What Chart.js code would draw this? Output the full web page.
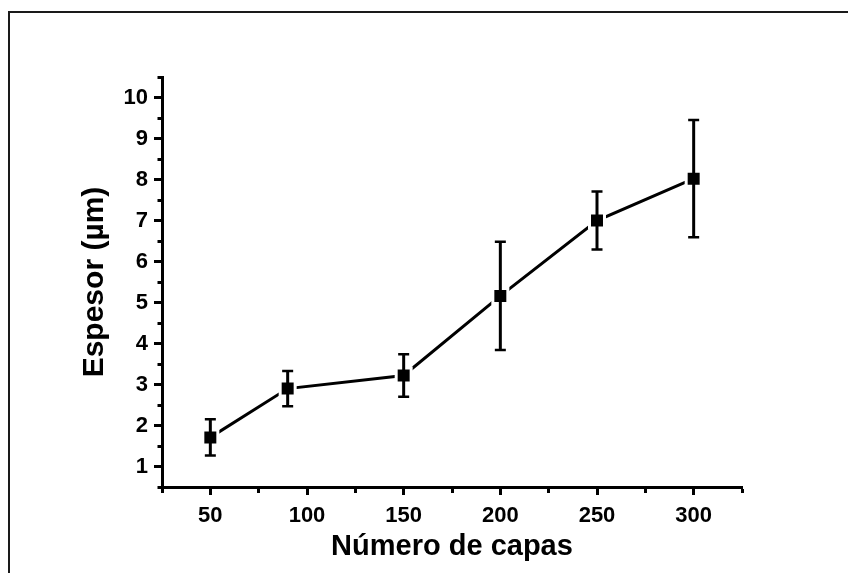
<!DOCTYPE html>
<html>
<head>
<meta charset="utf-8">
<title>Espesor vs número de capas</title>
<script src="https://cdn.jsdelivr.net/npm/chart.js@4.4.1/dist/chart.umd.min.js"></script>
<style>
  html, body { margin: 0; padding: 0; background: #fff; }
  #wrap { position: relative; width: 848px; height: 573px; overflow: hidden; }
  #frame {
    position: absolute; left: 8px; top: 11px; right: -10px; bottom: -10px;
    border-top: 2px solid #1a1a1a; border-left: 2px solid #1a1a1a;
    pointer-events: none;
  }
  canvas { position: absolute; left: 0; top: 0; }
</style>
</head>
<body>
<div id="wrap">
  <canvas id="grafico" width="848" height="573"></canvas>
  <div id="frame"></div>
</div>
<script>
// número de capas depositadas y espesor medido (µm), con su desviación
const capas = [50, 90, 150, 200, 250, 300];
const espesor = [1.71, 2.90, 3.22, 5.16, 7.00, 8.02];
const desviacion = [0.44, 0.43, 0.52, 1.32, 0.71, 1.43];

// marcas con etiqueta en cada eje
const xEtiquetas = [50, 100, 150, 200, 250, 300];
const yEtiquetas = [1, 2, 3, 4, 5, 6, 7, 8, 9, 10];

const fuente = "'Liberation Sans', Arial, sans-serif";

// barras de error verticales con tapa
const barrasError = {
  id: 'barrasError',
  afterDatasetsDraw(chart) {
    const { ctx, scales: { x, y } } = chart;
    ctx.save();
    ctx.strokeStyle = '#000';
    ctx.lineCap = 'butt';
    capas.forEach((c, i) => {
      const px = x.getPixelForValue(c);
      const arriba = y.getPixelForValue(espesor[i] + desviacion[i]);
      const abajo = y.getPixelForValue(espesor[i] - desviacion[i]);
      ctx.lineWidth = 3;
      ctx.beginPath();
      ctx.moveTo(px, arriba);
      ctx.lineTo(px, abajo);
      ctx.stroke();
      ctx.lineWidth = 2.5;
      ctx.beginPath();
      ctx.moveTo(px - 5.5, arriba); ctx.lineTo(px + 5.5, arriba);
      ctx.moveTo(px - 5.5, abajo); ctx.lineTo(px + 5.5, abajo);
      ctx.stroke();
    });
    ctx.restore();
  }
};

// marcas menores más cortas: el trazo discontinuo recorta la línea
function guionX(c) {
  return xEtiquetas.includes(c.tick.value) ? [] : [4, 20];
}
function guionY(c) {
  return yEtiquetas.includes(c.tick.value) ? [] : [0, 3.5, 20, 0];
}

new Chart(document.getElementById('grafico'), {
  type: 'scatter',
  data: {
    datasets: [{
      data: capas.map((c, i) => ({ x: c, y: espesor[i] })),
      showLine: true,
      borderColor: '#000',
      borderWidth: 3,
      pointStyle: 'rect',
      pointRadius: 10.6,
      pointBackgroundColor: '#000',
      pointBorderColor: '#fff',
      pointBorderWidth: 3,
      pointHoverRadius: 10.6
    }]
  },
  options: {
    responsive: false,
    animation: false,
    events: [],
    layout: { padding: { left: 62, top: 77, right: 106, bottom: 6 } },
    plugins: { legend: { display: false }, tooltip: { enabled: false } },
    scales: {
      x: {
        type: 'linear',
        position: 'bottom',
        min: 25, max: 325,
        afterFit(s) { s.height = 80; },
        border: { color: '#000', width: 3 },
        grid: {
          drawOnChartArea: false,
          drawTicks: true,
          tickLength: 8,
          tickWidth: 3,
          tickColor: '#000',
          tickBorderDash: guionX
        },
        ticks: {
          stepSize: 25,
          autoSkip: false,
          maxRotation: 0,
          padding: 8,
          color: '#000',
          font: { family: fuente, size: 22, weight: 'bold' },
          callback: v => xEtiquetas.includes(v) ? String(v) : ''
        },
        title: {
          display: true,
          text: 'Número de capas',
          color: '#000',
          font: { family: fuente, size: 29, weight: 'bold' },
          padding: { top: 0, bottom: 3 }
        }
      },
      y: {
        type: 'linear',
        min: 0.5, max: 10.5,
        afterFit(s) { s.width = 100; },
        border: { color: '#000', width: 3 },
        grid: {
          drawOnChartArea: false,
          drawTicks: true,
          tickLength: 8,
          tickWidth: 3,
          tickColor: '#000',
          tickBorderDash: guionY
        },
        ticks: {
          stepSize: 0.5,
          autoSkip: false,
          padding: 6,
          color: '#000',
          font: { family: fuente, size: 22, weight: 'bold' },
          callback: v => yEtiquetas.includes(v) ? String(v) : ''
        },
        title: {
          display: true,
          text: 'Espesor (µm)',
          color: '#000',
          font: { family: fuente, size: 30, weight: 'bold' },
          padding: { top: 15, bottom: 0 }
        }
      }
    }
  },
  plugins: [barrasError]
});
</script>
</body>
</html>
